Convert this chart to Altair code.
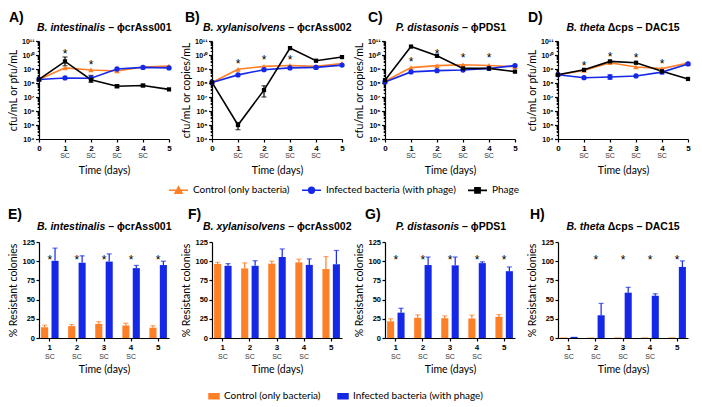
import altair as alt
import pandas as pd

# ---------------- data ----------------
SERIES = ["Control (only bacteria)", "Infected bacteria (with phage)", "Phage"]
COLORS = ["#FF7F27", "#1528E8", "#000000"]
LEG_KEYS = ["c", "i", "p"]
DAYS = [0, 1, 2, 3, 4, 5]
SC_DAYS = [1, 2, 3, 4]
BAR_DAYS = [1, 2, 3, 4, 5]

# A) B. intestinalis - phicrAss001
A_CTRL = [1.8e8, 1.2e9, 8.5e8, 7.2e8, 1.4e9, 1.6e9]
A_INF = [1.8e8, 2.3e8, 2.2e8, 1.0e9, 1.3e9, 1.2e9]
A_PHAGE = [1.8e8, 3.5e9, 1.7e8, 5.9e7, 6.6e7, 3.5e7]
A_PHAGE_LO = [None, 1.7e9, 1.1e8, 4.6e7, 5.5e7, None]
A_PHAGE_HI = [None, 7.2e9, 3.5e8, 7.5e7, 8.0e7, None]
A_STAR_DAYS = [1, 2]
A_STAR_Y = [2.0e10, 3.2e9]

# B) B. xylanisolvens - phicrAss002
B_CTRL = [1.1e8, 9.5e8, 1.55e9, 1.8e9, 1.55e9, 2.5e9]
B_INF = [1.1e8, 3.8e8, 8.9e8, 1.2e9, 1.3e9, 1.9e9]
B_PHAGE = [1.1e8, 1.0e5, 3.1e7, 3.1e10, 3.9e9, 7.1e9]
B_PHAGE_LO = [None, 4.6e4, 1.0e7, None, None, None]
B_PHAGE_HI = [None, 1.5e5, 6.3e7, None, None, None]
B_INF_LO = [None, None, None, None, 1.0e9, None]
B_INF_HI = [None, None, None, None, 1.6e9, None]
B_STAR_DAYS = [1, 2, 3]
B_STAR_Y = [4.0e9, 6.8e9, 6.8e9]

# C) P. distasonis - phiPDS1
C_CTRL = [1.35e8, 1.25e9, 1.75e9, 2.0e9, 1.8e9, 1.45e9]
C_INF = [1.2e8, 6.2e8, 7.6e8, 8.5e8, 1.1e9, 1.75e9]
C_PHAGE = [1.6e8, 4.0e10, 8.7e9, 1.1e9, 1.1e9, 6.5e8]
C_STAR_DAYS = [1, 2, 3, 4]
C_STAR_Y = [5.4e9, 2.0e10, 9.3e9, 9.3e9]

# D) B. theta dcps - DAC15
D_CTRL = [3.9e8, 8.0e8, 2.8e9, 1.4e9, 1.07e9, 2.7e9]
D_INF = [3.9e8, 2.4e8, 2.7e8, 3.2e8, 6.0e8, 2.3e9]
D_PHAGE = [3.9e8, 8.7e8, 3.5e9, 2.8e9, 6.8e8, 1.95e8]
D_INF_LO = [None, None, 1.8e8, None, 4.5e8, 1.8e9]
D_INF_HI = [None, None, 3.9e8, None, 7.0e8, 2.8e9]
D_STAR_DAYS = [1, 2, 3, 4]
D_STAR_Y = [2.5e9, 1.1e10, 9.8e9, 4.0e9]

# E-H) % resistant colonies
E_CTRL = [14.0, 15.5, 18.4, 16.3, 13.4]
E_CTRL_ERR = [2.7, 2.0, 2.9, 2.9, 2.5]
E_INF = [100.5, 98.0, 99.5, 91.0, 95.0]
E_INF_ERR = [16.5, 9.0, 10.0, 3.5, 5.0]
E_STAR_DAYS = [1, 2, 3, 4, 5]

F_CTRL = [96.4, 90.6, 96.8, 98.5, 89.8]
F_CTRL_ERR = [2.1, 7.1, 3.2, 4.1, 16.2]
F_INF = [94.0, 94.0, 105.5, 95.2, 96.0]
F_INF_ERR = [2.8, 6.6, 10.5, 7.8, 18.0]
F_STAR_DAYS = []

G_CTRL = [21.7, 26.3, 25.8, 25.4, 27.5]
G_CTRL_ERR = [3.3, 3.7, 3.0, 4.2, 2.9]
G_INF = [33.0, 95.0, 94.6, 97.5, 87.0]
G_INF_ERR = [5.7, 10.4, 10.8, 1.7, 5.5]
G_STAR_DAYS = [1, 2, 3, 4, 5]

H_CTRL = [0.6, 0.5, 0.7, 0.7, 0.7]
H_CTRL_ERR = [0, 0, 0, 0, 0]
H_INF = [1.5, 29.6, 59.0, 55.0, 92.5]
H_INF_ERR = [0, 15.4, 7.0, 2.5, 7.9]
H_STAR_DAYS = [2, 3, 4, 5]
BAR_STAR_Y = 105

# ---------------- styling ----------------
W = 130
H_TOP = 98
H_BOT = 96
TICK_FONT = "Liberation Sans"
TXT_FONT = "Lato"
TS = 10.5

W_BOLD = {" ": 278, ".": 278, "–": 556, "Δ": 722, "ϕ": 700, "A": 722, "B": 722,
          "C": 722, "D": 722, "P": 667, "S": 667, "a": 556, "b": 611, "c": 556,
          "d": 611, "e": 556, "h": 611, "i": 278, "l": 278, "n": 611, "o": 611,
          "p": 611, "r": 389, "s": 556, "t": 333, "v": 556, "x": 556, "y": 556}


def tw(s, size):
    return sum(W_BOLD.get(c, 556) for c in s) * size / 1000.0


def title_layers(italic, rest, y):
    w1 = tw(italic, TS)
    ws = tw(" ", TS)
    w2 = tw(rest, TS)
    split = W / 2 - (w1 + ws + w2) / 2 + w1
    t1 = alt.Chart(pd.DataFrame({"t": [italic]})).mark_text(
        align="right", baseline="middle", font=TICK_FONT, fontSize=TS,
        fontWeight="bold", fontStyle="italic", color="black"
    ).encode(text="t:N", x=alt.value(split), y=alt.value(y))
    t2 = alt.Chart(pd.DataFrame({"t": [rest]})).mark_text(
        align="left", baseline="middle", font=TICK_FONT, fontSize=TS,
        fontWeight="bold", color="black"
    ).encode(text="t:N", x=alt.value(split + ws), y=alt.value(y))
    return [t1, t2]


def label_layer(label, dx, dy):
    return alt.Chart(pd.DataFrame({"t": [label]})).mark_text(
        align="left", baseline="middle", font=TICK_FONT, fontSize=14,
        fontWeight="bold", color="black"
    ).encode(text="t:N", x=alt.value(dx), y=alt.value(dy))


COLOR_SCALE = alt.Scale(domain=SERIES, range=COLORS)

# log axis ticks
YTICKS = [float(k * 10 ** n) for n in range(4, 11) for k in range(1, 10)] + [1e11]
SUPS = "⁰¹²³⁴⁵⁶⁷⁸⁹"
LOG_LABELS = ["10" + "".join(SUPS[int(c)] for c in str(n)) for n in range(12)]
IS_DECADE = "abs(log(datum.value)/LN10 - round(log(datum.value)/LN10)) < 0.001"
LABEL_EXPR = (IS_DECADE + " ? [" + ",".join("'%s'" % s for s in LOG_LABELS)
              + "][round(log(datum.value)/LN10)] : ''")

YSCALE_TOP = alt.Scale(type="log", domain=[1e4, 1e11], nice=False)
XSCALE_TOP = alt.Scale(domain=[0, 5], nice=False, zero=False)

AX_COMMON = dict(domainColor="black", tickColor="black", labelColor="black",
                 titleColor="black", grid=False, domainWidth=1.2, tickWidth=1.2,
                 labelFont=TICK_FONT, labelFontWeight="bold", titleFont=TXT_FONT,
                 titleFontWeight="normal", titleFontSize=10.5, labelFlush=False,
                 labelOverlap=False)

X_AXIS_TOP = alt.Axis(values=DAYS, format="d", title="Time (days)", labelFontSize=8,
                      labelPadding=2, tickSize=3, titlePadding=13, **AX_COMMON)


def y_axis_top(title):
    return alt.Axis(values=YTICKS, labelExpr=LABEL_EXPR, title=title,
                    tickSize={"condition": {"test": IS_DECADE, "value": 3.5}, "value": 1.8},
                    labelFontSize=7, labelPadding=1.5, titlePadding=3, **AX_COMMON)


LEG_PATHS = [
    "M-1,0H1M-0.36,0.3L0,-0.34L0.36,0.3Z",
    "M-1,0H1M0.3,0A0.3,0.3,0,1,1,-0.3,0A0.3,0.3,0,1,1,0.3,0Z",
    "M-1,0H1M-0.27,-0.27H0.27V0.27H-0.27Z",
]
LEG_LABEL_EXPR = ("datum.value == 'c' ? '%s' : datum.value == 'i' ? '%s' : '%s'"
                  % tuple(SERIES))

BAR_LEGEND = alt.Legend(title=None, orient="none", legendX=169, legendY=349,
                        direction="horizontal", values=SERIES[:2],
                        symbolType="M-1,-0.5H1V0.5H-1Z", symbolSize=100,
                        labelFont=TXT_FONT, labelFontSize=10, labelColor="black",
                        labelOffset=4, columnPadding=14, padding=0)
LINE_LEGEND = alt.Legend(title=None, orient="none", legendX=129, legendY=138.5,
                         direction="horizontal", symbolSize=361, symbolStrokeWidth=1.6,
                         symbolFillColor="black", symbolStrokeColor="black",
                         labelFont=TXT_FONT, labelFontSize=10, labelColor="black",
                         labelOffset=4, columnPadding=8, padding=0,
                         labelExpr=LEG_LABEL_EXPR)


def top_panel(label, label_dx, italic, rest, ytitle, ctrl, inf, phage, errs,
              star_days, star_y, with_legend=False):
    df = pd.DataFrame([{"day": d, "series": s, "value": v}
                       for s, vals in zip(SERIES, (ctrl, inf, phage))
                       for d, v in zip(DAYS, vals)])
    edf = pd.DataFrame([{"day": d, "series": SERIES[i], "lo": lo, "hi": hi}
                        for i, (los, his) in errs.items()
                        for d, lo, hi in zip(DAYS, los, his) if lo is not None])
    yax = y_axis_top(ytitle)
    color = alt.Color("series:N", scale=COLOR_SCALE, legend=None)
    xq = alt.X("day:Q", scale=XSCALE_TOP, axis=X_AXIS_TOP)
    yq = alt.Y("value:Q", scale=YSCALE_TOP, axis=yax)

    layers = []
    if with_legend:
        # bar legend source (first so its legend settings lead)
        layers.append(alt.Chart(df).transform_filter("false").mark_bar().encode(
            color=alt.Color("series:N", scale=COLOR_SCALE, legend=BAR_LEGEND)))
        ldf = pd.DataFrame({"k": LEG_KEYS})
        layers.append(alt.Chart(ldf).transform_filter("false").mark_point(filled=True, opacity=1).encode(
            fill=alt.Fill("k:N", scale=alt.Scale(domain=LEG_KEYS, range=COLORS), legend=LINE_LEGEND),
            stroke=alt.Stroke("k:N", scale=alt.Scale(domain=LEG_KEYS, range=COLORS), legend=LINE_LEGEND),
            shape=alt.Shape("k:N", scale=alt.Scale(domain=LEG_KEYS, range=LEG_PATHS), legend=LINE_LEGEND)))

    layers.append(alt.Chart(df).mark_line(strokeWidth=1.6).encode(x=xq, y=yq, color=color))
    if len(edf):
        ylo = alt.Y("lo:Q", scale=YSCALE_TOP, axis=yax)
        yhi = alt.Y("hi:Q", scale=YSCALE_TOP, axis=yax)
        layers += [
            alt.Chart(edf).mark_rule(strokeWidth=1.2).encode(x=xq, y=ylo, y2="hi:Q", color=color),
            alt.Chart(edf).mark_tick(orient="horizontal", size=5, thickness=1.2).encode(
                x=xq, y=ylo, color=color),
            alt.Chart(edf).mark_tick(orient="horizontal", size=5, thickness=1.2).encode(
                x=xq, y=yhi, color=color),
        ]
    for s, shape, size in zip(SERIES, ["triangle-up", "circle", "square"], [30, 28, 18]):
        layers.append(alt.Chart(df).transform_filter(alt.datum.series == s).mark_point(
            filled=True, shape=shape, size=size, opacity=1, strokeWidth=0
        ).encode(x=xq, y=yq, color=color))
    layers.append(alt.Chart(pd.DataFrame({"day": star_days, "value": star_y,
                                          "t": ["*"] * len(star_days)})).mark_text(
        font=TICK_FONT, fontSize=12, baseline="middle", dy=3, color="black"
    ).encode(x=xq, y=yq, text="t:N"))
    layers.append(alt.Chart(pd.DataFrame({"day": SC_DAYS, "t": ["SC"] * len(SC_DAYS)})).mark_text(
        font=TICK_FONT, fontSize=7, baseline="middle", color="#333333"
    ).encode(x=xq, y=alt.value(H_TOP + 17), text="t:N"))
    layers += [label_layer(label, label_dx, -23)] + title_layers(italic, rest, -13)
    return alt.layer(*layers).properties(width=W, height=H_TOP)


XSCALE_BOT = alt.Scale(domain=BAR_DAYS, paddingInner=0.3, paddingOuter=0.05)
YSCALE_BOT = alt.Scale(domain=[0, 125], nice=False)
XO = alt.XOffset("series:N", scale=alt.Scale(domain=SERIES[:2], paddingInner=0.32,
                                             paddingOuter=0.07))
X_AXIS_BOT = alt.Axis(title="Time (days)", labelAngle=0, labelFontSize=8, labelPadding=2,
                      tickSize=3, titlePadding=13, **AX_COMMON)
Y_AXIS_BOT = alt.Axis(values=[0, 25, 50, 75, 100, 125], title="% Resistant colonies",
                      labelFontSize=7.5, labelPadding=1.5, tickSize=3, titlePadding=3,
                      **AX_COMMON)


def bottom_panel(label, label_dx, italic, rest, ctrl, ctrl_err, inf, inf_err, star_days):
    df = pd.DataFrame([{"day": d, "series": s, "value": v, "hi": v + e}
                       for s, vals, errs in zip(SERIES[:2], (ctrl, inf), (ctrl_err, inf_err))
                       for d, v, e in zip(BAR_DAYS, vals, errs)])
    edf = df[df["hi"] > df["value"]]
    xb = alt.X("day:O", scale=XSCALE_BOT, axis=X_AXIS_BOT)
    yv = alt.Y("value:Q", scale=YSCALE_BOT, axis=Y_AXIS_BOT)
    yh = alt.Y("hi:Q", scale=YSCALE_BOT, axis=Y_AXIS_BOT)
    color = alt.Color("series:N", scale=COLOR_SCALE, legend=None)
    layers = [
        alt.Chart(df).mark_bar().encode(x=xb, xOffset=XO, y=yv, color=color),
        alt.Chart(edf).mark_rule(strokeWidth=1.2).encode(x=xb, xOffset=XO, y=yv, y2="hi:Q",
                                                          color=color),
        alt.Chart(edf).mark_tick(orient="horizontal", size=5, thickness=1.2).encode(
            x=xb, xOffset=XO, y=yh, color=color),
    ]
    if star_days:
        layers.append(alt.Chart(pd.DataFrame({"day": star_days,
                                              "value": [BAR_STAR_Y] * len(star_days),
                                              "t": ["*"] * len(star_days)})).mark_text(
            font=TICK_FONT, fontSize=12, baseline="middle", dy=3, color="black"
        ).encode(x=xb, y=yv, text="t:N"))
    layers.append(alt.Chart(pd.DataFrame({"day": SC_DAYS, "t": ["SC"] * len(SC_DAYS)})).mark_text(
        font=TICK_FONT, fontSize=7, baseline="middle", color="#333333"
    ).encode(x=xb, y=alt.value(H_BOT + 19), text="t:N"))
    layers += [label_layer(label, label_dx, -27)] + title_layers(italic, rest, -15)
    return alt.layer(*layers).properties(width=W, height=H_BOT)


tops = [
    top_panel("A)", -30, "B. intestinalis", "– ϕcrAss001", "cfu/mL or pfu/mL",
              A_CTRL, A_INF, A_PHAGE, {2: (A_PHAGE_LO, A_PHAGE_HI)}, A_STAR_DAYS, A_STAR_Y,
              with_legend=True),
    top_panel("B)", -27, "B. xylanisolvens", "– ϕcrAss002", "cfu/mL or copies/mL",
              B_CTRL, B_INF, B_PHAGE, {1: (B_INF_LO, B_INF_HI), 2: (B_PHAGE_LO, B_PHAGE_HI)},
              B_STAR_DAYS, B_STAR_Y),
    top_panel("C)", -17, "P. distasonis", "– ϕPDS1", "cfu/mL or copies/mL",
              C_CTRL, C_INF, C_PHAGE, {}, C_STAR_DAYS, C_STAR_Y),
    top_panel("D)", -30, "B. theta", "Δcps – DAC15", "cfu/mL or pfu/mL",
              D_CTRL, D_INF, D_PHAGE, {1: (D_INF_LO, D_INF_HI)}, D_STAR_DAYS, D_STAR_Y),
]
bottoms = [
    bottom_panel("E)", -31, "B. intestinalis", "– ϕcrAss001", E_CTRL, E_CTRL_ERR, E_INF,
                 E_INF_ERR, E_STAR_DAYS),
    bottom_panel("F)", -24, "B. xylanisolvens", "– ϕcrAss002", F_CTRL, F_CTRL_ERR, F_INF,
                 F_INF_ERR, F_STAR_DAYS),
    bottom_panel("G)", -20, "P. distasonis", "– ϕPDS1", G_CTRL, G_CTRL_ERR, G_INF,
                 G_INF_ERR, G_STAR_DAYS),
    bottom_panel("H)", -28, "B. theta", "Δcps – DAC15", H_CTRL, H_CTRL_ERR, H_INF,
                 H_INF_ERR, H_STAR_DAYS),
]

chart = alt.concat(*tops, *bottoms, columns=4, spacing={"row": 103, "column": 43},
                   bounds="flush").properties(
    padding={"left": 0, "top": 3, "right": 0, "bottom": 0}
).configure_view(stroke=None)

chart.save("out.html", embed_options={"renderer": "svg", "actions": False})
